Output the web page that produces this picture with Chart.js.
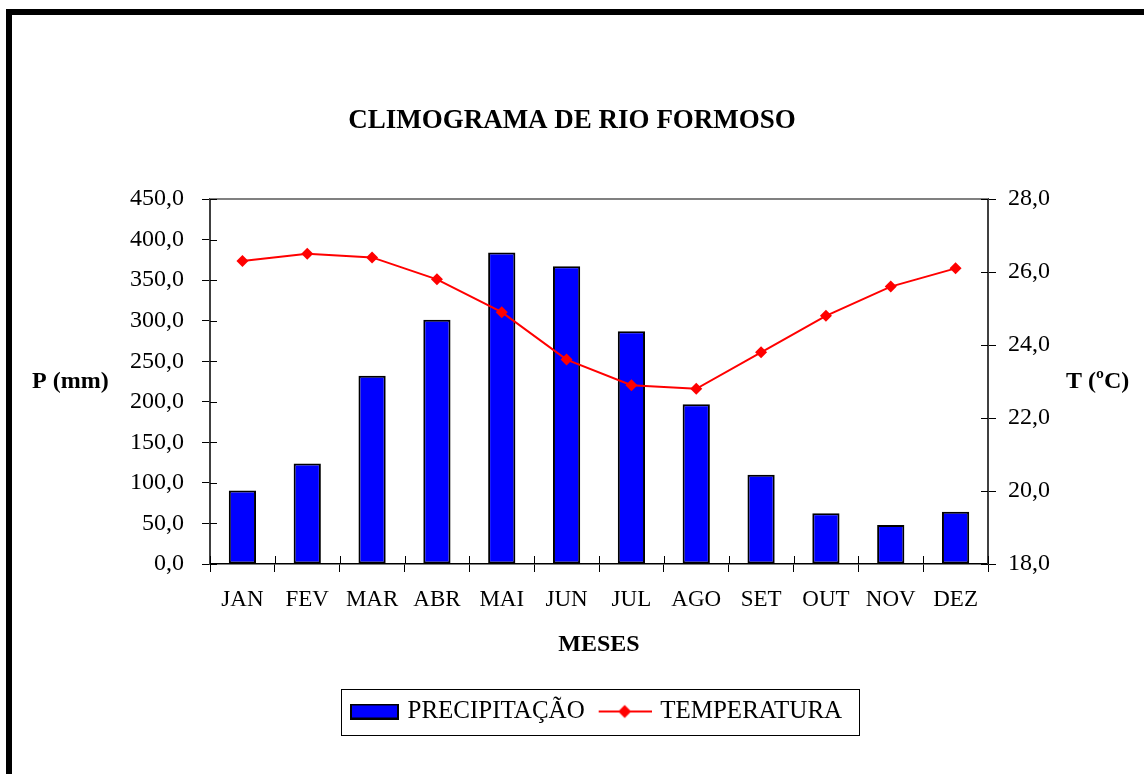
<!DOCTYPE html>
<html>
<head>
<meta charset="utf-8">
<script src="https://cdn.jsdelivr.net/npm/chart.js@4/dist/chart.umd.min.js"></script>
<style>
    html, body { margin: 0; padding: 0; background: #fff; }
    #wrap { position: relative; width: 1144px; height: 774px; overflow: hidden; }
    #frame { position: absolute; left: 6px; top: 9px; width: 1200px; height: 800px;
             border-left: 6px solid #000; border-top: 6px solid #000; }
    #chart_div { position: absolute; left: 0; top: 0; width: 1144px; height: 774px; }
</style>
</head>
<body>
<div id="wrap">
    <div id="frame"></div>
    <div id="chart_div"><canvas id="climo" width="1144" height="774"></canvas></div>
</div>
<script>
// dados
const meses = ["JAN", "FEV", "MAR", "ABR", "MAI", "JUN", "JUL", "AGO", "SET", "OUT", "NOV", "DEZ"];
const precipitacao = [90.5, 124, 232, 301, 384, 367, 287, 197, 110, 62.5, 48, 64.5];
const temperatura = [26.3, 26.5, 26.4, 25.8, 24.9, 23.6, 22.9, 22.8, 23.8, 24.8, 25.6, 26.1];
const titulo = "CLIMOGRAMA DE RIO FORMOSO";
const tituloP = "P (mm)";
const tituloT = "T (ºC)";
const tituloX = "MESES";

const serif = "'Liberation Serif', 'Times New Roman', serif";

// imagens da legenda: mais largas que a caixa, desenho encostado à direita
function legendBar() {
    let c = document.createElement("canvas");
    c.width = 62; c.height = 16;
    let g = c.getContext("2d");
    g.fillStyle = "#0000ff";
    g.fillRect(14, 1, 47, 14);
    g.strokeStyle = "#000";
    g.lineWidth = 2;
    g.strokeRect(14, 1, 47, 14);
    return c;
}

function legendLine() {
    let c = document.createElement("canvas");
    c.width = 62; c.height = 16;
    let g = c.getContext("2d");
    g.strokeStyle = "#ff0000";
    g.lineWidth = 2;
    g.beginPath(); g.moveTo(9, 8); g.lineTo(62, 8); g.stroke();
    g.fillStyle = "#ff0000";
    g.beginPath();
    g.moveTo(35, 1.5); g.lineTo(41.5, 8); g.lineTo(35, 14.5); g.lineTo(28.5, 8);
    g.closePath(); g.fill();
    return c;
}

const extras = {
    id: "extras",
    afterLayout(chart) {
        // centra a legenda como no original
        let lg = chart.legend;
        if (!lg || !lg.lineWidths) return;
        let pad = lg.options.labels.padding;
        let start = (lg.left + pad + lg.right - lg.lineWidths[0]) / 2;
        let shift = 341 - start;
        lg.left += shift;
        lg.right += shift;
    },
    afterDraw(chart) {
        let ctx = chart.ctx;
        let a = chart.chartArea;
        ctx.save();
        ctx.strokeStyle = "#808080";
        ctx.lineWidth = 2;
        ctx.beginPath(); ctx.moveTo(a.left, a.top); ctx.lineTo(a.right, a.top); ctx.stroke();

        // parte interna dos ticks
        ctx.strokeStyle = "#000";
        ctx.lineWidth = 1;
        let y = chart.scales.y, y1 = chart.scales.y1;
        y.ticks.forEach((t, i) => {
            let p = Math.round(y.getPixelForTick(i)) + 0.5;
            ctx.beginPath(); ctx.moveTo(a.left, p); ctx.lineTo(a.left + 7, p); ctx.stroke();
        });
        y1.ticks.forEach((t, i) => {
            let p = Math.round(y1.getPixelForTick(i)) + 0.5;
            ctx.beginPath(); ctx.moveTo(a.right - 7, p); ctx.lineTo(a.right, p); ctx.stroke();
        });
        for (let i = 0; i <= meses.length; i++) {
            let p = Math.round(a.left + (a.right - a.left) * i / meses.length) + 0.5;
            ctx.beginPath(); ctx.moveTo(p, a.bottom - 8); ctx.lineTo(p, a.bottom); ctx.stroke();
        }

        ctx.fillStyle = "#000";
        ctx.font = "bold 24px " + serif;
        ctx.textBaseline = "middle";
        ctx.textAlign = "left";
        let mid = (a.top + a.bottom) / 2;
        ctx.fillText(tituloP, 32, mid);
        ctx.fillText(tituloT, 1066, mid);

        let boxes = chart.legend.legendHitBoxes;
        if (boxes && boxes.length) {
            let last = boxes[boxes.length - 1];
            let l = boxes[0].left;
            let r = last.left + last.width + 17;
            let cy = boxes[0].top + boxes[0].height / 2;
            ctx.strokeStyle = "#000";
            ctx.lineWidth = 1;
            ctx.strokeRect(Math.round(l) + 0.5, Math.round(cy - 23) + 0.5, Math.round(r - l), 46);
        }
        ctx.restore();
    }
};

const barImg = legendBar();
const lineImg = legendLine();

new Chart(document.getElementById("climo"), {
    type: "bar",
    data: {
        labels: meses,
        datasets: [{
            label: "PRECIPITAÇÃO",
            data: precipitacao,
            backgroundColor: "#0000ff",
            borderColor: "#000",
            borderWidth: 2,
            borderSkipped: false,
            categoryPercentage: 1,
            barPercentage: 0.42,
            yAxisID: "y",
            order: 1
        }, {
            type: "line",
            label: "TEMPERATURA",
            data: temperatura,
            borderColor: "#ff0000",
            backgroundColor: "#ff0000",
            borderWidth: 2,
            pointStyle: "rectRot",
            pointRadius: 6,
            pointBorderWidth: 0,
            tension: 0,
            yAxisID: "y1",
            order: 0
        }]
    },
    options: {
        responsive: false,
        animation: false,
        devicePixelRatio: 1,
        layout: { padding: { top: 100, left: 0, right: 0, bottom: 40 } },
        scales: {
            x: {
                grid: { display: true, drawOnChartArea: false, tickLength: 8, color: "#000", offset: true },
                border: { display: true, color: "#000", width: 1.5 },
                ticks: { color: "#000", font: { family: serif, size: 23 }, padding: 14, maxRotation: 0, autoSkip: false },
                title: { display: true, text: tituloX, color: "#000", font: { family: serif, size: 24, weight: "bold" }, padding: { top: 0, bottom: 31 } },
                afterFit(scale) { scale.height = 126; }
            },
            y: {
                position: "left",
                min: 0, max: 450,
                ticks: { stepSize: 50, color: "#000", font: { family: serif, size: 24 }, padding: 18,
                         callback: v => v.toFixed(1).replace(".", ",") },
                grid: { display: true, drawOnChartArea: false, tickLength: 8, color: "#000" },
                border: { display: true, color: "#404040", width: 2 },
                afterFit(scale) { scale.width = 210; }
            },
            y1: {
                position: "right",
                min: 18, max: 28,
                ticks: { stepSize: 2, color: "#000", font: { family: serif, size: 24 }, padding: 12,
                         callback: v => v.toFixed(1).replace(".", ",") },
                grid: { display: true, drawOnChartArea: false, tickLength: 8, color: "#000" },
                border: { display: true, color: "#404040", width: 2 },
                afterFit(scale) { scale.width = 156; }
            }
        },
        plugins: {
            title: {
                display: true,
                text: titulo,
                color: "#000",
                font: { family: serif, size: 27, weight: "bold" },
                padding: { top: 5, bottom: 61.6 }
            },
            legend: {
                display: true,
                position: "bottom",
                labels: {
                    color: "#000",
                    font: { family: serif, size: 25 },
                    usePointStyle: true,
                    pointStyleWidth: 54,
                    padding: 9,
                    generateLabels: () => [
                        { text: "PRECIPITAÇÃO", pointStyle: barImg, fillStyle: "#0000ff", strokeStyle: "#000", lineWidth: 0, datasetIndex: 0, hidden: false },
                        { text: "TEMPERATURA", pointStyle: lineImg, fillStyle: "#ff0000", strokeStyle: "#ff0000", lineWidth: 0, datasetIndex: 1, hidden: false }
                    ]
                }
            },
            tooltip: { enabled: false }
        }
    },
    plugins: [extras]
});
</script>
</body>
</html>
